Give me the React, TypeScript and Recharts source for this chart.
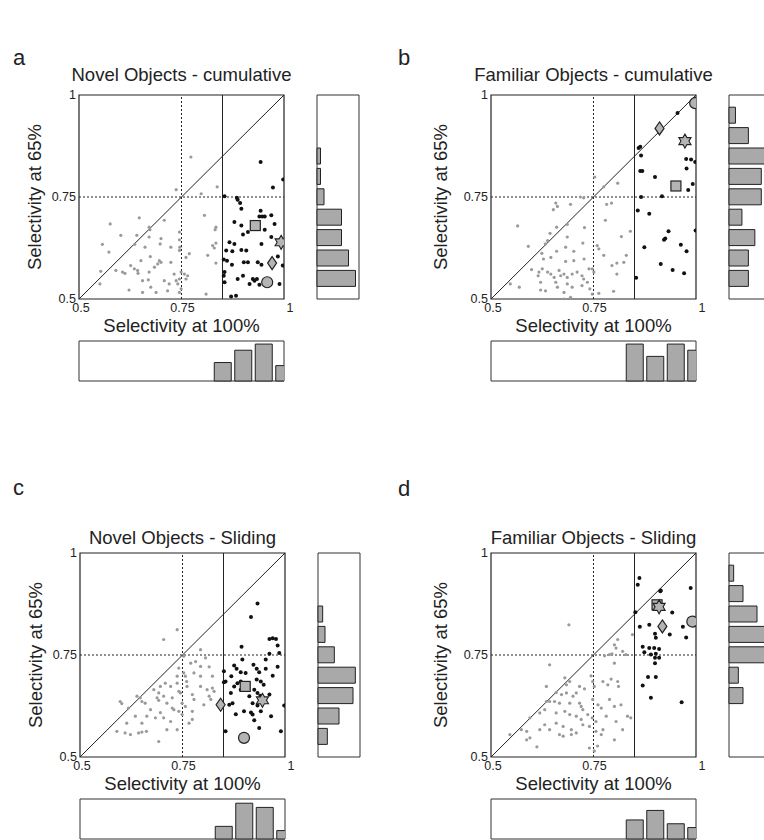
import React from 'react';
import {
  ScatterChart,
  Scatter,
  BarChart,
  Bar,
  XAxis,
  YAxis,
  ReferenceLine,
  ReferenceArea
} from 'recharts';

type Pt = [number, number];

// ---- axis ticks / histogram bins ----
const SEL_TICKS = [0.5, 0.75, 1];
const BIN_THRESHOLD = 0.85;

// ---- panel a : Novel Objects - cumulative ----
const aGray: Pt[] = [
  [0.773, 0.848], [0.737, 0.768], [0.837, 0.775], [0.798, 0.758], [0.806, 0.705], [0.576, 0.684],
  [0.647, 0.699], [0.671, 0.676], [0.673, 0.670], [0.708, 0.693], [0.834, 0.676], [0.832, 0.670],
  [0.602, 0.656], [0.641, 0.656], [0.671, 0.652], [0.745, 0.664], [0.700, 0.648], [0.698, 0.635],
  [0.557, 0.634], [0.636, 0.634], [0.745, 0.645], [0.746, 0.627], [0.745, 0.619], [0.834, 0.637],
  [0.826, 0.631], [0.830, 0.625], [0.573, 0.615], [0.661, 0.627], [0.724, 0.627], [0.769, 0.611],
  [0.674, 0.604], [0.651, 0.594], [0.696, 0.594], [0.700, 0.590], [0.692, 0.586], [0.724, 0.590],
  [0.761, 0.602], [0.814, 0.607], [0.834, 0.588], [0.626, 0.582], [0.635, 0.574], [0.590, 0.570],
  [0.606, 0.566], [0.612, 0.563], [0.643, 0.570], [0.644, 0.563], [0.671, 0.566], [0.553, 0.568],
  [0.684, 0.578], [0.732, 0.561], [0.749, 0.566], [0.757, 0.561], [0.765, 0.557], [0.761, 0.549],
  [0.655, 0.545], [0.669, 0.547], [0.708, 0.545], [0.737, 0.545], [0.741, 0.537], [0.745, 0.549],
  [0.720, 0.537], [0.622, 0.522], [0.655, 0.516], [0.688, 0.516], [0.716, 0.520], [0.745, 0.516],
  [0.749, 0.525], [0.810, 0.512], [0.675, 0.529], [0.551, 0.537]
];
const aBlack: Pt[] = [
  [0.943, 0.836], [0.998, 0.793], [0.973, 0.773], [0.855, 0.752], [0.885, 0.748], [0.887, 0.743],
  [0.893, 0.735], [0.896, 0.721], [0.943, 0.716], [0.940, 0.702], [0.947, 0.702], [0.953, 0.702],
  [0.969, 0.705], [0.879, 0.689], [0.896, 0.680], [0.977, 0.684], [0.953, 0.670], [0.912, 0.664],
  [0.900, 0.658], [0.969, 0.652], [0.867, 0.639], [0.879, 0.635], [0.945, 0.635], [0.896, 0.620],
  [0.859, 0.619], [0.874, 0.617], [0.908, 0.619], [0.853, 0.597], [0.861, 0.594], [0.902, 0.590],
  [0.912, 0.590], [0.873, 0.584], [0.936, 0.590], [0.945, 0.584], [0.985, 0.604], [0.997, 0.582],
  [0.855, 0.566], [0.853, 0.557], [0.900, 0.557], [0.887, 0.549], [0.924, 0.549], [0.928, 0.545],
  [0.934, 0.549], [0.916, 0.537], [0.940, 0.535], [0.855, 0.541], [0.871, 0.506], [0.883, 0.508],
  [0.989, 0.537]
];
const aSquare: Pt = [0.930, 0.680];
const aStar: Pt = [0.993, 0.639];
const aDiamond: Pt = [0.971, 0.588];
const aCircle: Pt = [0.959, 0.541];
const aSideBins = [0.55, 0.6, 0.65, 0.7, 0.75, 0.8, 0.85];
const aSideCounts = [11, 9, 7, 7, 2, 1, 1];
const aSideMax = 12;
const aBaseBins = [0.85, 0.9, 0.95, 1.0];
const aBaseCounts = [6, 10, 12, 5];
const aBaseMax = 13;

// ---- panel b : Familiar Objects - cumulative ----
const bGray: Pt[] = [
  [0.753, 0.799], [0.775, 0.775], [0.809, 0.784], [0.718, 0.750], [0.726, 0.748], [0.658, 0.735],
  [0.662, 0.727], [0.652, 0.719], [0.694, 0.732], [0.782, 0.732], [0.794, 0.735], [0.565, 0.679],
  [0.660, 0.676], [0.686, 0.683], [0.728, 0.675], [0.779, 0.693], [0.840, 0.666], [0.644, 0.661],
  [0.686, 0.652], [0.818, 0.653], [0.591, 0.629], [0.638, 0.643], [0.633, 0.635], [0.724, 0.637],
  [0.759, 0.631], [0.763, 0.623], [0.624, 0.612], [0.660, 0.617], [0.682, 0.627], [0.702, 0.617],
  [0.628, 0.598], [0.646, 0.602], [0.682, 0.592], [0.702, 0.594], [0.727, 0.598], [0.775, 0.607],
  [0.807, 0.588], [0.824, 0.590], [0.830, 0.607], [0.599, 0.572], [0.625, 0.574], [0.617, 0.566],
  [0.615, 0.557], [0.638, 0.566], [0.646, 0.561], [0.654, 0.553], [0.666, 0.570], [0.670, 0.557],
  [0.678, 0.561], [0.686, 0.553], [0.698, 0.561], [0.710, 0.566], [0.722, 0.557], [0.726, 0.549],
  [0.739, 0.574], [0.747, 0.574], [0.751, 0.566], [0.795, 0.582], [0.807, 0.561], [0.547, 0.537],
  [0.569, 0.529], [0.621, 0.541], [0.633, 0.520], [0.621, 0.522], [0.658, 0.541], [0.662, 0.529],
  [0.686, 0.537], [0.698, 0.529], [0.678, 0.516], [0.722, 0.533], [0.735, 0.541], [0.741, 0.525],
  [0.747, 0.512], [0.763, 0.514], [0.799, 0.519], [0.694, 0.504], [0.678, 0.500]
];
const bBlack: Pt[] = [
  [0.864, 0.873], [0.860, 0.870], [0.866, 0.852], [0.864, 0.814], [0.869, 0.814], [0.900, 0.799],
  [0.866, 0.750], [0.917, 0.752], [0.858, 0.717], [0.886, 0.709], [0.933, 0.666], [0.874, 0.627],
  [0.925, 0.648], [0.914, 0.586], [0.854, 0.552], [0.955, 0.956], [0.976, 0.843], [0.988, 0.842],
  [0.998, 0.836], [0.977, 0.820], [0.981, 0.767], [0.992, 0.782], [0.999, 0.668], [0.922, 0.645],
  [0.963, 0.633], [0.977, 0.617], [0.943, 0.571], [0.971, 0.563]
];
const bSquare: Pt = [0.951, 0.777];
const bStar: Pt = [0.973, 0.887];
const bDiamond: Pt = [0.911, 0.918];
const bCircle: Pt = [0.998, 0.980];
const bSideBins = [0.55, 0.6, 0.65, 0.7, 0.75, 0.8, 0.85, 0.9, 0.95];
const bSideCounts = [6, 6, 8, 4, 10, 10, 13, 6, 2];
const bSideMax = 13;
const bBaseBins = [0.85, 0.9, 0.95, 1.0];
const bBaseCounts = [12, 8, 12, 10];
const bBaseMax = 13;

// ---- panel c : Novel Objects - Sliding ----
const cGray: Pt[] = [
  [0.737, 0.812], [0.704, 0.788], [0.794, 0.763], [0.753, 0.747], [0.770, 0.730], [0.782, 0.734],
  [0.806, 0.743], [0.741, 0.718], [0.794, 0.722], [0.815, 0.721], [0.753, 0.706], [0.757, 0.698],
  [0.760, 0.685], [0.761, 0.673], [0.778, 0.706], [0.794, 0.698], [0.823, 0.698], [0.737, 0.698],
  [0.708, 0.681], [0.721, 0.673], [0.696, 0.673], [0.680, 0.665], [0.737, 0.681], [0.741, 0.661],
  [0.745, 0.657], [0.810, 0.665], [0.823, 0.669], [0.827, 0.661], [0.794, 0.673], [0.692, 0.657],
  [0.688, 0.645], [0.692, 0.639], [0.639, 0.649], [0.647, 0.645], [0.704, 0.649], [0.725, 0.645],
  [0.774, 0.653], [0.778, 0.641], [0.815, 0.649], [0.819, 0.641], [0.598, 0.636], [0.602, 0.631],
  [0.651, 0.636], [0.659, 0.632], [0.712, 0.632], [0.725, 0.620], [0.729, 0.616], [0.749, 0.632],
  [0.757, 0.624], [0.802, 0.628], [0.618, 0.620], [0.672, 0.616], [0.696, 0.609], [0.741, 0.612],
  [0.749, 0.604], [0.774, 0.612], [0.635, 0.600], [0.663, 0.600], [0.684, 0.596], [0.704, 0.596],
  [0.774, 0.592], [0.766, 0.583], [0.614, 0.583], [0.651, 0.583], [0.721, 0.587], [0.590, 0.563],
  [0.610, 0.559], [0.623, 0.555], [0.643, 0.559], [0.651, 0.561], [0.662, 0.563], [0.712, 0.567],
  [0.737, 0.567], [0.692, 0.538]
];
const cBlack: Pt[] = [
  [0.933, 0.876], [0.917, 0.843], [0.962, 0.789], [0.970, 0.791], [0.978, 0.789], [0.982, 0.773],
  [0.894, 0.770], [0.962, 0.753], [0.986, 0.755], [0.896, 0.739], [0.953, 0.739], [0.923, 0.726],
  [0.876, 0.724], [0.882, 0.716], [0.982, 0.721], [0.851, 0.710], [0.892, 0.708], [0.904, 0.706],
  [0.931, 0.716], [0.937, 0.708], [0.953, 0.716], [0.970, 0.699], [0.869, 0.698], [0.931, 0.690],
  [0.941, 0.685], [0.855, 0.685], [0.892, 0.685], [0.884, 0.681], [0.948, 0.677], [0.876, 0.673],
  [0.925, 0.665], [0.933, 0.657], [0.940, 0.650], [0.868, 0.657], [0.892, 0.665], [0.913, 0.649],
  [0.962, 0.653], [0.872, 0.632], [0.864, 0.628], [0.921, 0.632], [0.933, 0.626], [0.998, 0.626],
  [0.900, 0.612], [0.917, 0.609], [0.921, 0.604], [0.880, 0.605], [0.941, 0.612], [0.966, 0.600],
  [0.925, 0.590], [0.855, 0.563], [0.937, 0.571], [0.990, 0.563], [0.851, 0.683]
];
const cSquare: Pt = [0.903, 0.673];
const cStar: Pt = [0.945, 0.639];
const cDiamond: Pt = [0.843, 0.628];
const cCircle: Pt = [0.900, 0.547];
const cSideBins = [0.55, 0.6, 0.65, 0.7, 0.75, 0.8, 0.85];
const cSideCounts = [4, 9, 15, 16, 7, 3, 2];
const cSideMax = 18;
const cBaseBins = [0.85, 0.9, 0.95, 1.0];
const cBaseCounts = [6, 17, 15, 4];
const cBaseMax = 19;

// ---- panel d : Familiar Objects - Sliding ----
const dGray: Pt[] = [
  [0.690, 0.824], [0.643, 0.726], [0.801, 0.775], [0.805, 0.767], [0.809, 0.788], [0.845, 0.800],
  [0.777, 0.748], [0.789, 0.751], [0.795, 0.753], [0.821, 0.759], [0.829, 0.751], [0.801, 0.730],
  [0.744, 0.699], [0.748, 0.685], [0.752, 0.673], [0.680, 0.694], [0.692, 0.685], [0.684, 0.677],
  [0.635, 0.673], [0.716, 0.673], [0.728, 0.667], [0.773, 0.685], [0.785, 0.677], [0.793, 0.691],
  [0.809, 0.685], [0.811, 0.673], [0.659, 0.658], [0.672, 0.653], [0.684, 0.657], [0.708, 0.657],
  [0.700, 0.649], [0.635, 0.636], [0.643, 0.636], [0.655, 0.636], [0.667, 0.632], [0.692, 0.632],
  [0.716, 0.632], [0.720, 0.624], [0.724, 0.616], [0.748, 0.641], [0.761, 0.628], [0.769, 0.620],
  [0.789, 0.641], [0.801, 0.624], [0.817, 0.628], [0.595, 0.596], [0.619, 0.608], [0.631, 0.616],
  [0.659, 0.608], [0.680, 0.612], [0.692, 0.604], [0.708, 0.600], [0.720, 0.592], [0.736, 0.604],
  [0.747, 0.596], [0.756, 0.587], [0.781, 0.600], [0.805, 0.587], [0.833, 0.600], [0.841, 0.596],
  [0.574, 0.567], [0.587, 0.563], [0.619, 0.567], [0.631, 0.579], [0.643, 0.567], [0.659, 0.583],
  [0.676, 0.575], [0.696, 0.567], [0.708, 0.559], [0.724, 0.579], [0.740, 0.575], [0.756, 0.563],
  [0.769, 0.555], [0.773, 0.567], [0.821, 0.567], [0.546, 0.555], [0.587, 0.542], [0.595, 0.547],
  [0.667, 0.555], [0.676, 0.551], [0.696, 0.555], [0.801, 0.542], [0.740, 0.522], [0.752, 0.515],
  [0.760, 0.527], [0.612, 0.525]
];
const dBlack: Pt[] = [
  [0.862, 0.939], [0.858, 0.922], [0.913, 0.906], [0.852, 0.855], [0.863, 0.819], [0.886, 0.824],
  [0.900, 0.802], [0.902, 0.792], [0.870, 0.770], [0.886, 0.767], [0.898, 0.767], [0.910, 0.765],
  [0.874, 0.757], [0.890, 0.751], [0.902, 0.753], [0.900, 0.743], [0.910, 0.743], [0.900, 0.730],
  [0.883, 0.696], [0.902, 0.696], [0.870, 0.675], [0.890, 0.645], [0.987, 0.914], [0.914, 0.908],
  [0.942, 0.854], [0.968, 0.819], [0.936, 0.800], [0.976, 0.793], [0.965, 0.634]
];
const dSquare: Pt = [0.905, 0.873];
const dStar: Pt = [0.910, 0.868];
const dDiamond: Pt = [0.918, 0.820];
const dCircle: Pt = [0.991, 0.832];
const dSideBins = [0.65, 0.7, 0.75, 0.8, 0.85, 0.9, 0.95];
const dSideCounts = [3, 2, 9, 9, 6, 3, 1];
const dSideMax = 9;
const dBaseBins = [0.85, 0.9, 0.95, 1.0];
const dBaseCounts = [10, 15, 8, 6];
const dBaseMax = 21;

const FONT = '"Liberation Sans", Arial, Helvetica, sans-serif';
const INK = '#222';
const GRAY_DOT = '#9a9a9a';
const BAR_FILL = '#a9a9a9';
const MARK_FILL = '#b4b4b4';

const PW = 205; // plot box width
const PH = 204; // plot box height

const toXY = (pts: Pt[]) => pts.map(([x, y]) => ({ x, y }));

const smallDot = (r: number, fill: string) => (p: any) => (
  <circle cx={p.cx} cy={p.cy} r={r} fill={fill} />
);

const squareShape = (p: any) => (
  <rect x={p.cx - 5} y={p.cy - 5} width={10} height={10} fill={MARK_FILL} stroke={INK} strokeWidth={1.2} />
);
const diamondShape = (p: any) => (
  <path
    d={`M${p.cx},${p.cy - 6.5}L${p.cx + 4.5},${p.cy}L${p.cx},${p.cy + 6.5}L${p.cx - 4.5},${p.cy}Z`}
    fill={MARK_FILL}
    stroke={INK}
    strokeWidth={1.2}
  />
);
const circleShape = (p: any) => (
  <circle cx={p.cx} cy={p.cy} r={5.5} fill={MARK_FILL} stroke={INK} strokeWidth={1.2} />
);
// six-pointed star
const starShape = (p: any) => {
  const pts: string[] = [];
  for (let i = 0; i < 12; i++) {
    const r = i % 2 === 0 ? 7 : 4;
    const a = (-90 + i * 30) * Math.PI / 180;
    pts.push(`${p.cx + r * Math.cos(a)},${p.cy + r * Math.sin(a)}`);
  }
  return <polygon points={pts.join(' ')} fill={MARK_FILL} stroke={INK} strokeWidth={1.1} />;
};

const XTick = (p: any) => {
  const v = p.payload.value;
  const dx = v === 1 ? 6 : v === 0.5 ? 2 : 1;
  return (
    <text x={p.x + dx} y={p.y} dy="0.71em" textAnchor="middle" fontSize={12.5} fill={INK} fontFamily={FONT}>
      {v}
    </text>
  );
};

interface PanelProps {
  letter: string;
  letterPos: [number, number];
  title: string;
  titleGap: number;
  yLabelGap: number;
  left: number;
  top: number;
  gray: Pt[];
  black: Pt[];
  square: Pt;
  star: Pt;
  diamond: Pt;
  circle: Pt;
  sideBins: number[];
  sideCounts: number[];
  sideMax: number;
  baseBins: number[];
  baseCounts: number[];
  baseMax: number;
}

const Panel: React.FC<PanelProps> = (props) => {
  const { left, top, sideMax, baseMax } = props;
  const side = props.sideBins.map((bin, i) => ({ bin, count: props.sideCounts[i] }));
  const base = props.baseBins.map((bin, i) => ({ bin, count: props.baseCounts[i] }));
  const text: React.CSSProperties = { position: 'absolute', fontFamily: FONT, color: INK, whiteSpace: 'nowrap', lineHeight: 1 };

  return (
    <>
      <div style={{ ...text, left: props.letterPos[0], top: props.letterPos[1], fontSize: 22 }}>{props.letter}</div>
      <div
        style={{
          ...text,
          left: left + PW / 2,
          top: top - props.titleGap,
          fontSize: 18.5,
          transform: 'translate(-50%, -50%)'
        }}
      >
        {props.title}
      </div>
      <div
        style={{
          ...text,
          left: left - props.yLabelGap,
          top: top + PH / 2,
          fontSize: 18.5,
          transform: 'translate(-50%, -50%) rotate(-90deg)'
        }}
      >
        Selectivity at 65%
      </div>
      <div style={{ ...text, left: left + PW / 2, top: top + PH + 27, fontSize: 18.5, transform: 'translate(-50%, -50%)' }}>
        Selectivity at 100%
      </div>

      <div style={{ position: 'absolute', left: left - 30, top: top - 10 }}>
        <ScatterChart width={30 + PW + 12} height={10 + PH + 22} margin={{ top: 10, right: 12, bottom: 0, left: 0 }}>
          <XAxis
            type="number"
            dataKey="x"
            domain={[0.5, 1]}
            ticks={SEL_TICKS}
            axisLine={false}
            tickLine={false}
            tickSize={2}
            tickMargin={2}
            height={22}
            tick={<XTick />}
            allowDataOverflow
          />
          <YAxis
            type="number"
            dataKey="y"
            domain={[0.5, 1]}
            ticks={SEL_TICKS}
            axisLine={false}
            tickLine={false}
            tickSize={1}
            tickMargin={2}
            width={30}
            tick={{ fontSize: 12.5, fill: INK, fontFamily: FONT }}
            allowDataOverflow
          />
          <ReferenceLine x={0.75} stroke={INK} strokeDasharray="2 2" />
          <ReferenceLine y={0.75} stroke={INK} strokeDasharray="2 2" />
          <ReferenceLine x={BIN_THRESHOLD} stroke={INK} />
          <ReferenceLine segment={[{ x: 0.5, y: 0.5 }, { x: 1, y: 1 }]} stroke={INK} />
          <ReferenceArea x1={0.5} x2={1} y1={0.5} y2={1} fill="none" stroke={INK} strokeWidth={1.2} />
          <Scatter data={toXY(props.gray)} shape={smallDot(1.6, GRAY_DOT)} isAnimationActive={false} />
          <Scatter data={toXY(props.black)} shape={smallDot(2, '#111')} isAnimationActive={false} />
          <Scatter data={toXY([props.square])} shape={squareShape} isAnimationActive={false} />
          <Scatter data={toXY([props.diamond])} shape={diamondShape} isAnimationActive={false} />
          <Scatter data={toXY([props.circle])} shape={circleShape} isAnimationActive={false} />
          <Scatter data={toXY([props.star])} shape={starShape} isAnimationActive={false} />
        </ScatterChart>
      </div>

      <div style={{ position: 'absolute', left: left + 238 - 1, top: top - 1 }}>
        <BarChart layout="vertical" width={42 + 2} height={PH + 2} data={side} margin={{ top: 1, right: 1, bottom: 1, left: 1 }}>
          <XAxis type="number" domain={[0, sideMax]} hide />
          <YAxis type="number" dataKey="bin" domain={[0.5, 1]} ticks={props.sideBins} reversed hide />
          <ReferenceArea x1={0} x2={sideMax} y1={0.5} y2={1} fill="none" stroke="#333" />
          <Bar dataKey="count" barSize={16} fill={BAR_FILL} stroke={INK} isAnimationActive={false} />
        </BarChart>
      </div>

      <div style={{ position: 'absolute', left: left - 1, top: top + PH + 42 - 1 }}>
        <BarChart width={PW + 2} height={40 + 2} data={base} margin={{ top: 1, right: 1, bottom: 1, left: 1 }}>
          <XAxis type="number" dataKey="bin" domain={[0.5, 1]} ticks={props.baseBins} hide allowDataOverflow />
          <YAxis type="number" domain={[0, baseMax]} hide />
          <ReferenceArea x1={0.5} x2={1} y1={0} y2={baseMax} fill="none" stroke="#333" />
          <Bar dataKey="count" barSize={17} fill={BAR_FILL} stroke={INK} isAnimationActive={false} />
        </BarChart>
      </div>
    </>
  );
};

const App: React.FC = () => {
  return (
    <div style={{ position: 'absolute', left: 0, top: 0, width: 764, height: 840, overflow: 'hidden', background: '#fff' }}>
      <Panel
        letter="a" letterPos={[13, 47]} title="Novel Objects - cumulative" titleGap={20} yLabelGap={44}
        left={79} top={95}
        gray={aGray} black={aBlack} square={aSquare} star={aStar} diamond={aDiamond} circle={aCircle}
        sideBins={aSideBins} sideCounts={aSideCounts} sideMax={aSideMax}
        baseBins={aBaseBins} baseCounts={aBaseCounts} baseMax={aBaseMax}
      />
      <Panel
        letter="b" letterPos={[398, 47]} title="Familiar Objects - cumulative" titleGap={20} yLabelGap={50}
        left={491} top={95}
        gray={bGray} black={bBlack} square={bSquare} star={bStar} diamond={bDiamond} circle={bCircle}
        sideBins={bSideBins} sideCounts={bSideCounts} sideMax={bSideMax}
        baseBins={bBaseBins} baseCounts={bBaseCounts} baseMax={bBaseMax}
      />
      <Panel
        letter="c" letterPos={[13, 477]} title="Novel Objects - Sliding" titleGap={15} yLabelGap={44}
        left={80} top={553}
        gray={cGray} black={cBlack} square={cSquare} star={cStar} diamond={cDiamond} circle={cCircle}
        sideBins={cSideBins} sideCounts={cSideCounts} sideMax={cSideMax}
        baseBins={cBaseBins} baseCounts={cBaseCounts} baseMax={cBaseMax}
      />
      <Panel
        letter="d" letterPos={[398, 478]} title="Familiar Objects - Sliding" titleGap={15} yLabelGap={50}
        left={491} top={553}
        gray={dGray} black={dBlack} square={dSquare} star={dStar} diamond={dDiamond} circle={dCircle}
        sideBins={dSideBins} sideCounts={dSideCounts} sideMax={dSideMax}
        baseBins={dBaseBins} baseCounts={dBaseCounts} baseMax={dBaseMax}
      />
    </div>
  );
};

export default App;
